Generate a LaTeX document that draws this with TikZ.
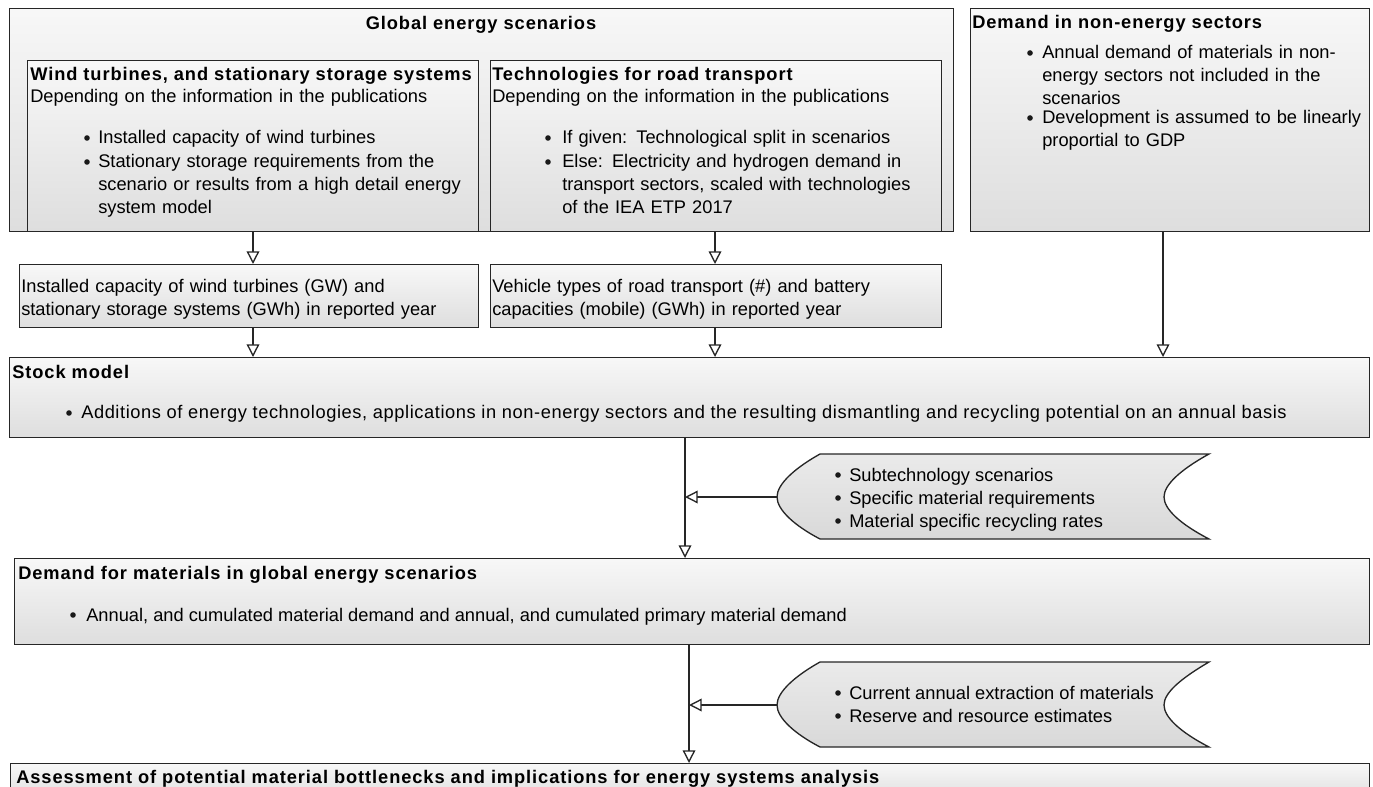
\documentclass[tikz,border=0pt]{standalone}
\usepackage{fontspec}
\setmainfont{Liberation Sans}
\usetikzlibrary{arrows.meta}
\tikzset{
  box/.style={draw=black!85, line width=1pt, top color=black!3, bottom color=black!13, inner sep=0pt, anchor=north west},
  dat/.style={draw=black!85, line width=1pt, top color=black!8, bottom color=black!15},
  txt/.style={anchor=base west, inner sep=0pt, text width=420pt, align=left, font=\fontsize{13.7}{16.9}\selectfont},
  ttl/.style={anchor=base west, inner sep=0pt, font=\fontsize{13.7}{16.9}\selectfont\bfseries\addfontfeature{LetterSpace=5}},
  bul/.style={anchor=base west, inner sep=0pt, font=\fontsize{13.7}{16.9}\selectfont},
  dot/.style={circle, fill=black!90, inner sep=0pt, minimum size=4.2pt},
  arr/.style={draw=black!85, line width=1pt, -{Triangle[open, length=9.5pt, width=9.5pt, fill=white]}},
}
\newcommand\mybox[5]{\node[box, minimum width={(#4-#2)*0.75pt}, minimum height={(#5-#3)*0.75pt}] (#1) at (#2,#3) {};}
\begin{document}
\begin{tikzpicture}[x=0.75pt,y=-0.75pt]
\useasboundingbox (0,0) rectangle (1373,787);
% boxes
\mybox{glob}{9}{8}{953}{231}
\mybox{nonen}{970}{8}{1369}{231}
\mybox{wind}{27}{60}{478}{231}
\mybox{tech}{490}{60}{941}{231}
\mybox{inst}{19}{264}{478}{327}
\mybox{veh}{490}{264}{941}{327}
\mybox{stock}{9}{357}{1369}{437}
\mybox{dem}{14}{558}{1369}{644}
\mybox{assess}{10}{763}{1369}{800}
% data shapes
\path[dat] (820,454) -- (1209,454) .. controls (1180,470) and (1164,485) .. (1164,497)
  .. controls (1164,509) and (1180,524) .. (1209,539) -- (820,539)
  .. controls (795,526) and (777,510) .. (777,497) .. controls (777,484) and (795,468) .. (820,454) -- cycle;
\path[dat] (820,662) -- (1209,662) .. controls (1180,679) and (1164,693) .. (1164,705)
  .. controls (1164,717) and (1180,732) .. (1209,747) -- (820,747)
  .. controls (795,734) and (777,718) .. (777,705) .. controls (777,692) and (795,676) .. (820,662) -- cycle;
\coordinate (d1tip) at (777,497);
\coordinate (d2tip) at (777,705);
% texts
\node[ttl, anchor=base] (globt) at (481,30) {Global energy scenarios};
\node[ttl] (nonent) at (972,29) {Demand in non-energy sectors};
\node[dot] (nb1) at (1030,53) {};
\node[txt] (nt1) at (1042,59) {Annual demand of materials in non-\\energy sectors not included in the\\scenarios};
\node[dot] (nb2) at (1030,118) {};
\node[txt] (nt2) at (1042,124) {Development is assumed to be linearly\\proportial to GDP};
\node[ttl] (windt) at (30,81) {Wind turbines, and stationary storage systems};
\node[txt] (windd) at (30,103) {Depending on the information in the publications};
\node[dot] (wb1) at (87,138) {};
\node[txt] (wt1) at (98,144) {Installed capacity of wind turbines};
\node[dot] (wb2) at (87,162) {};
\node[txt] (wt2) at (98,168) {Stationary storage requirements from the\\scenario or results from a high detail energy\\system model};
\node[ttl] (techt) at (492,81) {Technologies for road transport};
\node[txt] (techd) at (492,103) {Depending on the information in the publications};
\node[dot] (tb1) at (548,138) {};
\node[txt] (tt1) at (562,144) {If given: Technological split in scenarios};
\node[dot] (tb2) at (548,162) {};
\node[txt] (tt2) at (562,168) {Else: Electricity and hydrogen demand in\\transport sectors, scaled with technologies\\of the IEA ETP 2017};
\node[txt] (instt) at (21,293) {Installed capacity of wind turbines (GW) and\\stationary storage systems (GWh) in reported year};
\node[txt] (veht) at (492,293) {Vehicle types of road transport (\#) and battery\\capacities (mobile) (GWh) in reported year};
\node[ttl] (stockt) at (12,379) {Stock model};
\node[dot] (sb1) at (69,413) {};
\node[bul, font=\fontsize{13.7}{16.9}\selectfont\addfontfeature{LetterSpace=3.2}] (st1) at (81,419) {Additions of energy technologies, applications in non-energy sectors and the resulting dismantling and recycling potential on an annual basis};
\node[ttl] (demt) at (18,579) {Demand for materials in global energy scenarios};
\node[dot] (db1) at (73,615) {};
\node[bul] (dt1) at (86,621) {Annual, and cumulated material demand and annual, and cumulated primary material demand};
\node[dot] (s1b1) at (838,475) {};
\node[bul] (s1t1) at (849,481) {Subtechnology scenarios};
\node[dot] (s1b2) at (838,498) {};
\node[bul] (s1t2) at (849,504) {Specific material requirements};
\node[dot] (s1b3) at (838,521) {};
\node[bul] (s1t3) at (849,527) {Material specific recycling rates};
\node[dot] (s2b1) at (838,693) {};
\node[bul] (s2t1) at (849,699) {Current annual extraction of materials};
\node[dot] (s2b2) at (838,716) {};
\node[bul] (s2t2) at (849,722) {Reserve and resource estimates};
\node[ttl] (assesst) at (16,783) {Assessment of potential material bottlenecks and implications for energy systems analysis};
% connector columns
\coordinate (a1) at (253,0);
\coordinate (a2) at (715,0);
\coordinate (a3) at (1163,0);
\coordinate (v1) at (685,0);
\coordinate (v2) at (689,0);
% connectors
\draw[arr] (wind.south -| a1) -- (inst.north -| a1);
\draw[arr] (inst.south -| a1) -- (stock.north -| a1);
\draw[arr] (tech.south -| a2) -- (veh.north -| a2);
\draw[arr] (veh.south -| a2) -- (stock.north -| a2);
\draw[arr] (nonen.south -| a3) -- (stock.north -| a3);
\draw[arr] (stock.south -| v1) -- (dem.north -| v1);
\draw[arr] (d1tip) -- (d1tip -| v1);
\draw[arr] (dem.south -| v2) -- (assess.north -| v2);
\draw[arr] (d2tip) -- (d2tip -| v2);
\end{tikzpicture}
\end{document}
